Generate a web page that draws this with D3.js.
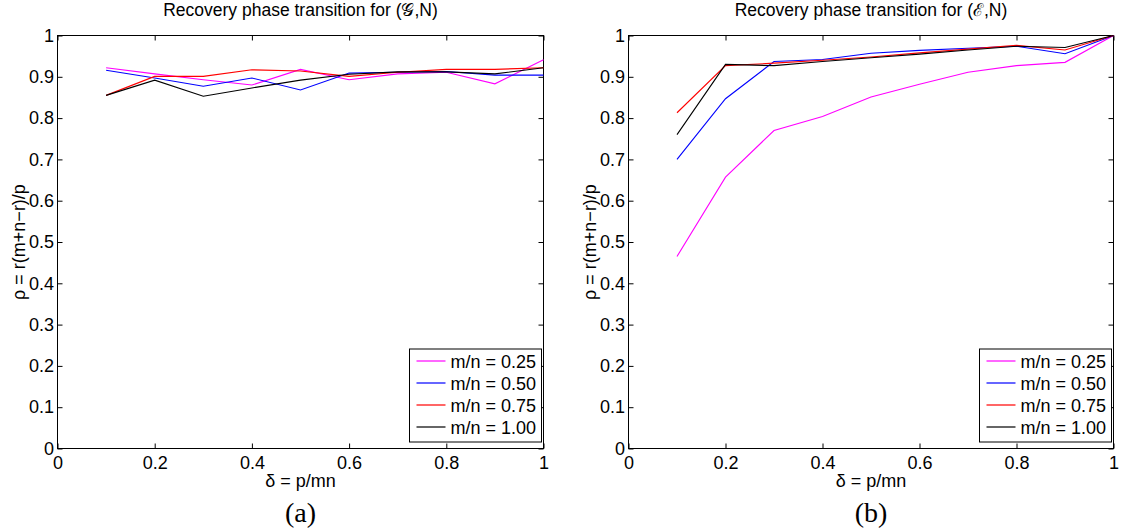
<!DOCTYPE html>
<html>
<head>
<meta charset="utf-8">
<script src="https://cdn.jsdelivr.net/npm/d3@7"></script>
<style>
  body { margin: 0; background: #fff; }
  text { font-family: "Liberation Sans", Arial, sans-serif; }
</style>
</head>
<body>
<div id="chart"></div>
<script>
// sampling ratios on the x axis
const deltas = [0.1, 0.2, 0.3, 0.4, 0.5, 0.6, 0.7, 0.8, 0.9, 1.0];
const seriesNames = ["m/n = 0.25", "m/n = 0.50", "m/n = 0.75", "m/n = 1.00"];
const seriesColors = ["#ff00ff", "#0000ff", "#ff0000", "#000000"];

// panel (a): Gaussian ensemble
const gaussQ25 = [0.922, 0.907, 0.893, 0.880, 0.918, 0.893, 0.907, 0.911, 0.883, 0.941];
const gaussQ50 = [0.916, 0.897, 0.877, 0.897, 0.868, 0.909, 0.911, 0.913, 0.904, 0.904];
const gaussQ75 = [0.855, 0.901, 0.901, 0.917, 0.914, 0.901, 0.911, 0.918, 0.918, 0.922];
const gaussQ100 = [0.855, 0.892, 0.853, 0.873, 0.892, 0.906, 0.912, 0.912, 0.907, 0.922];

// panel (b): second ensemble
const ensQ25 = [0.465, 0.657, 0.770, 0.804, 0.851, 0.882, 0.911, 0.927, 0.935, 1.0];
const ensQ50 = [0.700, 0.847, 0.937, 0.942, 0.957, 0.964, 0.969, 0.974, 0.956, 1.0];
const ensQ75 = [0.813, 0.927, 0.933, 0.940, 0.948, 0.958, 0.967, 0.976, 0.965, 1.0];
const ensQ100 = [0.760, 0.930, 0.927, 0.937, 0.946, 0.955, 0.965, 0.974, 0.971, 1.0];

const xTicks = [0, 0.2, 0.4, 0.6, 0.8, 1];
const yTicks = [0, 0.1, 0.2, 0.3, 0.4, 0.5, 0.6, 0.7, 0.8, 0.9, 1];

const W = 1124, H = 529;
const svg = d3.select("#chart").append("svg")
  .attr("width", W)
  .attr("height", H);

const fmt = d => d3.format("")(+d.toFixed(1));

function drawPanel(left, right, title, series, caption) {
  const top = 35.5, bottom = 448.5;
  const x = d3.scaleLinear().domain([0, 1]).range([left, right]);
  const y = d3.scaleLinear().domain([0, 1]).range([bottom, top]);
  const g = svg.append("g");
  const cx = (left + right) / 2;

  // box + inward ticks on all four sides (matlab style)
  const tick = 5;
  g.append("g")
    .attr("transform", `translate(0,${bottom})`)
    .call(d3.axisBottom(x).tickValues(xTicks).tickSize(-tick).tickPadding(7.5).tickFormat(fmt))
    .call(a => a.select(".domain").remove())
    .call(a => a.selectAll("text").style("font-size", "18px"));
  g.append("g")
    .attr("transform", `translate(0,${top})`)
    .call(d3.axisTop(x).tickValues(xTicks).tickSize(-tick).tickFormat(""))
    .call(a => a.select(".domain").remove());
  g.append("g")
    .attr("transform", `translate(${left},0)`)
    .call(d3.axisLeft(y).tickValues(yTicks).tickSize(-tick).tickPadding(3.5).tickFormat(fmt))
    .call(a => a.select(".domain").remove())
    .call(a => a.selectAll("text").style("font-size", "18px"));
  g.append("g")
    .attr("transform", `translate(${right},0)`)
    .call(d3.axisRight(y).tickValues(yTicks).tickSize(-tick).tickFormat(""))
    .call(a => a.select(".domain").remove());

  g.append("rect")
    .attr("x", left).attr("y", top)
    .attr("width", right - left).attr("height", bottom - top)
    .attr("fill", "none").attr("stroke", "#000").attr("stroke-width", 1);

  // series
  const line = d3.line().x((d, i) => x(deltas[i])).y(d => y(d));
  series.forEach((vals, i) => {
    g.append("path")
      .datum(vals)
      .attr("d", line)
      .attr("fill", "none")
      .attr("stroke", seriesColors[i])
      .attr("stroke-width", 1.1);
  });

  // titles and labels
  g.append("text")
    .attr("x", cx).attr("y", 16)
    .attr("text-anchor", "middle")
    .style("font-size", "17.5px")
    .text(title);
  g.append("text")
    .attr("x", cx).attr("y", 487)
    .attr("text-anchor", "middle")
    .style("font-size", "18px")
    .text("δ = p/mn");
  g.append("text")
    .attr("transform", `translate(${left - 33},${(top + bottom) / 2}) rotate(-90)`)
    .attr("text-anchor", "middle")
    .style("font-size", "18px")
    .text("ρ = r(m+n−r)/p");
  g.append("text")
    .attr("x", cx).attr("y", 522)
    .attr("text-anchor", "middle")
    .style("font-family", "'Liberation Serif', 'DejaVu Serif', serif")
    .style("font-size", "28px")
    .text(caption);

  // legend
  const lg = g.append("g").attr("transform", `translate(${right - 134},349)`);
  lg.append("rect")
    .attr("x", 0).attr("y", 0)
    .attr("width", 132).attr("height", 93)
    .attr("fill", "#fff").attr("stroke", "#000").attr("stroke-width", 1);
  seriesNames.forEach((name, i) => {
    const ly = 12 + i * 22;
    lg.append("line")
      .attr("x1", 7).attr("x2", 36)
      .attr("y1", ly).attr("y2", ly)
      .attr("stroke", seriesColors[i]).attr("stroke-width", 1.2);
    lg.append("text")
      .attr("x", 41).attr("y", ly + 6.5)
      .style("font-size", "18px")
      .text(name);
  });
}

drawPanel(57.5, 543.5, "Recovery phase transition for (\u{1D4A2},N)",
  [gaussQ25, gaussQ50, gaussQ75, gaussQ100], "(a)");
drawPanel(628.5, 1113.5, "Recovery phase transition for (\u2130,N)",
  [ensQ25, ensQ50, ensQ75, ensQ100], "(b)");
</script>
</body>
</html>
